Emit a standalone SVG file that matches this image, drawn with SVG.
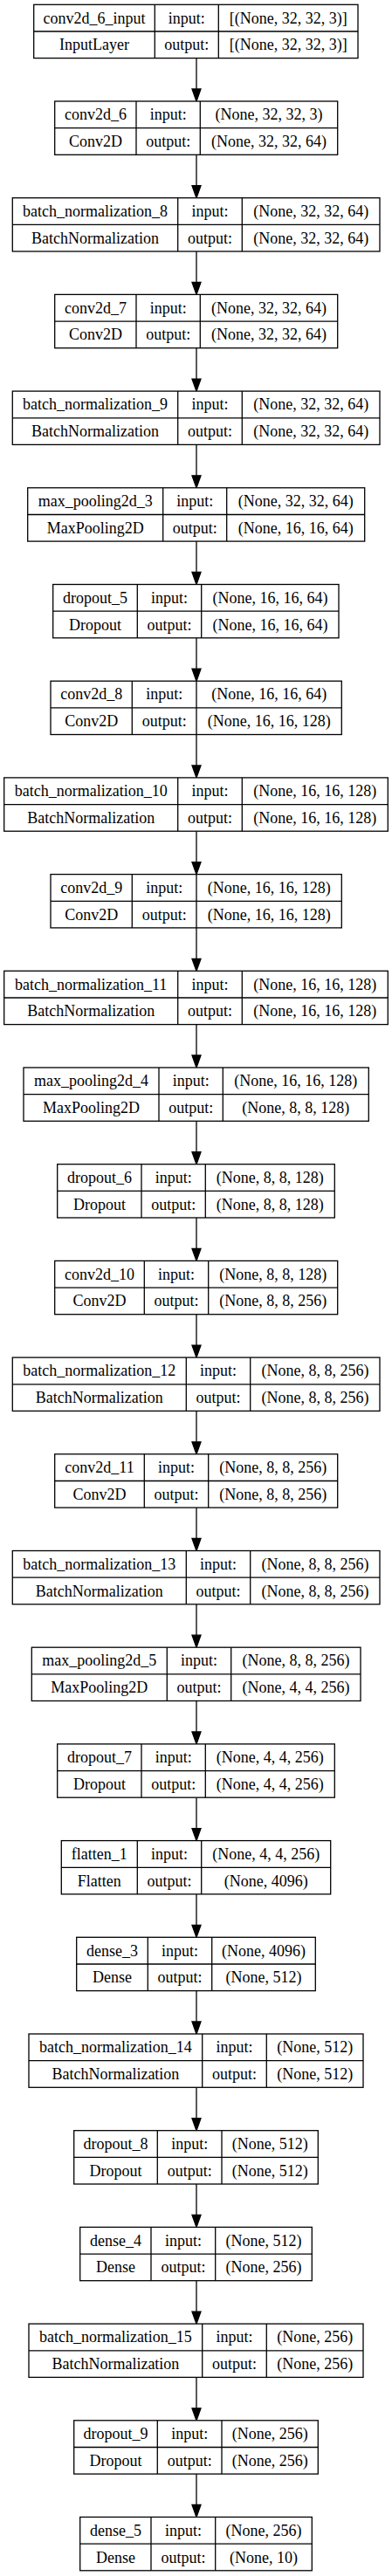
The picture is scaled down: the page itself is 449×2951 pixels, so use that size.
<svg xmlns="http://www.w3.org/2000/svg" width="449" height="2951" viewBox="0 0 449 2951">
<style>
.b{fill:#fff;stroke:#000;stroke-width:1.3}
.l{stroke:#000;stroke-width:1.3}
text{font-family:"Liberation Serif","Times New Roman",serif;font-size:18px;text-anchor:middle;fill:#000}
.e{stroke:#000;stroke-width:1.3;fill:none}
.h{fill:#000;stroke:#000;stroke-width:1.3}
</style>
<rect width="449" height="2951" fill="#fff"/>
<g id="connectors">
<line class="e" x1="225" y1="66.6" x2="225" y2="102"/><polygon class="h" points="220,102 230,102 225,116"/>
<line class="e" x1="225" y1="177.3" x2="225" y2="212.7"/><polygon class="h" points="220,212.7 230,212.7 225,226.7"/>
<line class="e" x1="225" y1="288" x2="225" y2="323.4"/><polygon class="h" points="220,323.4 230,323.4 225,337.4"/>
<line class="e" x1="225" y1="398.7" x2="225" y2="434.1"/><polygon class="h" points="220,434.1 230,434.1 225,448.1"/>
<line class="e" x1="225" y1="509.4" x2="225" y2="544.8"/><polygon class="h" points="220,544.8 230,544.8 225,558.8"/>
<line class="e" x1="225" y1="620.1" x2="225" y2="655.5"/><polygon class="h" points="220,655.5 230,655.5 225,669.5"/>
<line class="e" x1="225" y1="730.8" x2="225" y2="766.2"/><polygon class="h" points="220,766.2 230,766.2 225,780.2"/>
<line class="e" x1="225" y1="841.5" x2="225" y2="876.9"/><polygon class="h" points="220,876.9 230,876.9 225,890.9"/>
<line class="e" x1="225" y1="952.2" x2="225" y2="987.6"/><polygon class="h" points="220,987.6 230,987.6 225,1001.6"/>
<line class="e" x1="225" y1="1062.9" x2="225" y2="1098.3"/><polygon class="h" points="220,1098.3 230,1098.3 225,1112.3"/>
<line class="e" x1="225" y1="1173.6" x2="225" y2="1209"/><polygon class="h" points="220,1209 230,1209 225,1223"/>
<line class="e" x1="225" y1="1284.3" x2="225" y2="1319.7"/><polygon class="h" points="220,1319.7 230,1319.7 225,1333.7"/>
<line class="e" x1="225" y1="1395" x2="225" y2="1430.4"/><polygon class="h" points="220,1430.4 230,1430.4 225,1444.4"/>
<line class="e" x1="225" y1="1505.7" x2="225" y2="1541.1"/><polygon class="h" points="220,1541.1 230,1541.1 225,1555.1"/>
<line class="e" x1="225" y1="1616.4" x2="225" y2="1651.8"/><polygon class="h" points="220,1651.8 230,1651.8 225,1665.8"/>
<line class="e" x1="225" y1="1727.1" x2="225" y2="1762.5"/><polygon class="h" points="220,1762.5 230,1762.5 225,1776.5"/>
<line class="e" x1="225" y1="1837.8" x2="225" y2="1873.2"/><polygon class="h" points="220,1873.2 230,1873.2 225,1887.2"/>
<line class="e" x1="225" y1="1948.5" x2="225" y2="1983.9"/><polygon class="h" points="220,1983.9 230,1983.9 225,1997.9"/>
<line class="e" x1="225" y1="2059.2" x2="225" y2="2094.6"/><polygon class="h" points="220,2094.6 230,2094.6 225,2108.6"/>
<line class="e" x1="225" y1="2169.9" x2="225" y2="2205.3"/><polygon class="h" points="220,2205.3 230,2205.3 225,2219.3"/>
<line class="e" x1="225" y1="2280.6" x2="225" y2="2316"/><polygon class="h" points="220,2316 230,2316 225,2330"/>
<line class="e" x1="225" y1="2391.3" x2="225" y2="2426.7"/><polygon class="h" points="220,2426.7 230,2426.7 225,2440.7"/>
<line class="e" x1="225" y1="2502" x2="225" y2="2537.4"/><polygon class="h" points="220,2537.4 230,2537.4 225,2551.4"/>
<line class="e" x1="225" y1="2612.7" x2="225" y2="2648.1"/><polygon class="h" points="220,2648.1 230,2648.1 225,2662.1"/>
<line class="e" x1="225" y1="2723.4" x2="225" y2="2758.8"/><polygon class="h" points="220,2758.8 230,2758.8 225,2772.8"/>
<line class="e" x1="225" y1="2834.1" x2="225" y2="2869.5"/><polygon class="h" points="220,2869.5 230,2869.5 225,2883.5"/>
</g>
<g id="n0" transform="translate(0,5.3)"><rect class="b" x="38.7" y="0" width="371.3" height="61.3"/><line class="l" x1="38.7" y1="30.7" x2="410" y2="30.7"/><line class="l" x1="177.3" y1="0" x2="177.3" y2="61.3"/><line class="l" x1="250.3" y1="0" x2="250.3" y2="61.3"/><text x="108" y="21.3">conv2d_6_input</text><text x="108" y="52">InputLayer</text><text x="213.8" y="21.3">input:</text><text x="213.8" y="52">output:</text><text x="330.2" y="21.3">[(None, 32, 32, 3)]</text><text x="330.2" y="52">[(None, 32, 32, 3)]</text></g>
<g id="n1" transform="translate(0,116)"><rect class="b" x="62.7" y="0" width="324" height="61.3"/><line class="l" x1="62.7" y1="30.7" x2="386.7" y2="30.7"/><line class="l" x1="156" y1="0" x2="156" y2="61.3"/><line class="l" x1="229.3" y1="0" x2="229.3" y2="61.3"/><text x="109.4" y="21.3">conv2d_6</text><text x="109.4" y="52">Conv2D</text><text x="192.7" y="21.3">input:</text><text x="192.7" y="52">output:</text><text x="308" y="21.3">(None, 32, 32, 3)</text><text x="308" y="52">(None, 32, 32, 64)</text></g>
<g id="n2" transform="translate(0,226.7)"><rect class="b" x="14.3" y="0" width="420.7" height="61.3"/><line class="l" x1="14.3" y1="30.7" x2="435" y2="30.7"/><line class="l" x1="203.7" y1="0" x2="203.7" y2="61.3"/><line class="l" x1="277.3" y1="0" x2="277.3" y2="61.3"/><text x="109" y="21.3">batch_normalization_8</text><text x="109" y="52">BatchNormalization</text><text x="240.5" y="21.3">input:</text><text x="240.5" y="52">output:</text><text x="356.2" y="21.3">(None, 32, 32, 64)</text><text x="356.2" y="52">(None, 32, 32, 64)</text></g>
<g id="n3" transform="translate(0,337.4)"><rect class="b" x="62.7" y="0" width="324" height="61.3"/><line class="l" x1="62.7" y1="30.7" x2="386.7" y2="30.7"/><line class="l" x1="156" y1="0" x2="156" y2="61.3"/><line class="l" x1="229.3" y1="0" x2="229.3" y2="61.3"/><text x="109.4" y="21.3">conv2d_7</text><text x="109.4" y="52">Conv2D</text><text x="192.7" y="21.3">input:</text><text x="192.7" y="52">output:</text><text x="308" y="21.3">(None, 32, 32, 64)</text><text x="308" y="52">(None, 32, 32, 64)</text></g>
<g id="n4" transform="translate(0,448.1)"><rect class="b" x="14.3" y="0" width="420.7" height="61.3"/><line class="l" x1="14.3" y1="30.7" x2="435" y2="30.7"/><line class="l" x1="203.7" y1="0" x2="203.7" y2="61.3"/><line class="l" x1="277.3" y1="0" x2="277.3" y2="61.3"/><text x="109" y="21.3">batch_normalization_9</text><text x="109" y="52">BatchNormalization</text><text x="240.5" y="21.3">input:</text><text x="240.5" y="52">output:</text><text x="356.2" y="21.3">(None, 32, 32, 64)</text><text x="356.2" y="52">(None, 32, 32, 64)</text></g>
<g id="n5" transform="translate(0,558.8)"><rect class="b" x="31.7" y="0" width="386" height="61.3"/><line class="l" x1="31.7" y1="30.7" x2="417.7" y2="30.7"/><line class="l" x1="186.7" y1="0" x2="186.7" y2="61.3"/><line class="l" x1="259.7" y1="0" x2="259.7" y2="61.3"/><text x="109.2" y="21.3">max_pooling2d_3</text><text x="109.2" y="52">MaxPooling2D</text><text x="223.2" y="21.3">input:</text><text x="223.2" y="52">output:</text><text x="338.7" y="21.3">(None, 32, 32, 64)</text><text x="338.7" y="52">(None, 16, 16, 64)</text></g>
<g id="n6" transform="translate(0,669.5)"><rect class="b" x="60.7" y="0" width="327.3" height="61.3"/><line class="l" x1="60.7" y1="30.7" x2="388" y2="30.7"/><line class="l" x1="157.3" y1="0" x2="157.3" y2="61.3"/><line class="l" x1="230.7" y1="0" x2="230.7" y2="61.3"/><text x="109" y="21.3">dropout_5</text><text x="109" y="52">Dropout</text><text x="194" y="21.3">input:</text><text x="194" y="52">output:</text><text x="309.4" y="21.3">(None, 16, 16, 64)</text><text x="309.4" y="52">(None, 16, 16, 64)</text></g>
<g id="n7" transform="translate(0,780.2)"><rect class="b" x="58" y="0" width="333.3" height="61.3"/><line class="l" x1="58" y1="30.7" x2="391.3" y2="30.7"/><line class="l" x1="151.3" y1="0" x2="151.3" y2="61.3"/><line class="l" x1="225" y1="0" x2="225" y2="61.3"/><text x="104.7" y="21.3">conv2d_8</text><text x="104.7" y="52">Conv2D</text><text x="188.2" y="21.3">input:</text><text x="188.2" y="52">output:</text><text x="308.2" y="21.3">(None, 16, 16, 64)</text><text x="308.2" y="52">(None, 16, 16, 128)</text></g>
<g id="n8" transform="translate(0,890.9)"><rect class="b" x="4.7" y="0" width="439.6" height="61.3"/><line class="l" x1="4.7" y1="30.7" x2="444.3" y2="30.7"/><line class="l" x1="203.7" y1="0" x2="203.7" y2="61.3"/><line class="l" x1="277.3" y1="0" x2="277.3" y2="61.3"/><text x="104.2" y="21.3">batch_normalization_10</text><text x="104.2" y="52">BatchNormalization</text><text x="240.5" y="21.3">input:</text><text x="240.5" y="52">output:</text><text x="360.8" y="21.3">(None, 16, 16, 128)</text><text x="360.8" y="52">(None, 16, 16, 128)</text></g>
<g id="n9" transform="translate(0,1001.6)"><rect class="b" x="58" y="0" width="333.3" height="61.3"/><line class="l" x1="58" y1="30.7" x2="391.3" y2="30.7"/><line class="l" x1="151.3" y1="0" x2="151.3" y2="61.3"/><line class="l" x1="225" y1="0" x2="225" y2="61.3"/><text x="104.7" y="21.3">conv2d_9</text><text x="104.7" y="52">Conv2D</text><text x="188.2" y="21.3">input:</text><text x="188.2" y="52">output:</text><text x="308.2" y="21.3">(None, 16, 16, 128)</text><text x="308.2" y="52">(None, 16, 16, 128)</text></g>
<g id="n10" transform="translate(0,1112.3)"><rect class="b" x="4.7" y="0" width="439.6" height="61.3"/><line class="l" x1="4.7" y1="30.7" x2="444.3" y2="30.7"/><line class="l" x1="203.7" y1="0" x2="203.7" y2="61.3"/><line class="l" x1="277.3" y1="0" x2="277.3" y2="61.3"/><text x="104.2" y="21.3">batch_normalization_11</text><text x="104.2" y="52">BatchNormalization</text><text x="240.5" y="21.3">input:</text><text x="240.5" y="52">output:</text><text x="360.8" y="21.3">(None, 16, 16, 128)</text><text x="360.8" y="52">(None, 16, 16, 128)</text></g>
<g id="n11" transform="translate(0,1223)"><rect class="b" x="27" y="0" width="395.3" height="61.3"/><line class="l" x1="27" y1="30.7" x2="422.3" y2="30.7"/><line class="l" x1="182" y1="0" x2="182" y2="61.3"/><line class="l" x1="255.3" y1="0" x2="255.3" y2="61.3"/><text x="104.5" y="21.3">max_pooling2d_4</text><text x="104.5" y="52">MaxPooling2D</text><text x="218.7" y="21.3">input:</text><text x="218.7" y="52">output:</text><text x="338.8" y="21.3">(None, 16, 16, 128)</text><text x="338.8" y="52">(None, 8, 8, 128)</text></g>
<g id="n12" transform="translate(0,1333.7)"><rect class="b" x="65.7" y="0" width="317.6" height="61.3"/><line class="l" x1="65.7" y1="30.7" x2="383.3" y2="30.7"/><line class="l" x1="162" y1="0" x2="162" y2="61.3"/><line class="l" x1="235.3" y1="0" x2="235.3" y2="61.3"/><text x="113.9" y="21.3">dropout_6</text><text x="113.9" y="52">Dropout</text><text x="198.7" y="21.3">input:</text><text x="198.7" y="52">output:</text><text x="309.3" y="21.3">(None, 8, 8, 128)</text><text x="309.3" y="52">(None, 8, 8, 128)</text></g>
<g id="n13" transform="translate(0,1444.4)"><rect class="b" x="62.7" y="0" width="324" height="61.3"/><line class="l" x1="62.7" y1="30.7" x2="386.7" y2="30.7"/><line class="l" x1="165.3" y1="0" x2="165.3" y2="61.3"/><line class="l" x1="238.7" y1="0" x2="238.7" y2="61.3"/><text x="114" y="21.3">conv2d_10</text><text x="114" y="52">Conv2D</text><text x="202" y="21.3">input:</text><text x="202" y="52">output:</text><text x="312.7" y="21.3">(None, 8, 8, 128)</text><text x="312.7" y="52">(None, 8, 8, 256)</text></g>
<g id="n14" transform="translate(0,1555.1)"><rect class="b" x="14.3" y="0" width="420.7" height="61.3"/><line class="l" x1="14.3" y1="30.7" x2="435" y2="30.7"/><line class="l" x1="213.3" y1="0" x2="213.3" y2="61.3"/><line class="l" x1="286.7" y1="0" x2="286.7" y2="61.3"/><text x="113.8" y="21.3">batch_normalization_12</text><text x="113.8" y="52">BatchNormalization</text><text x="250" y="21.3">input:</text><text x="250" y="52">output:</text><text x="360.9" y="21.3">(None, 8, 8, 256)</text><text x="360.9" y="52">(None, 8, 8, 256)</text></g>
<g id="n15" transform="translate(0,1665.8)"><rect class="b" x="62.7" y="0" width="324" height="61.3"/><line class="l" x1="62.7" y1="30.7" x2="386.7" y2="30.7"/><line class="l" x1="165.3" y1="0" x2="165.3" y2="61.3"/><line class="l" x1="238.7" y1="0" x2="238.7" y2="61.3"/><text x="114" y="21.3">conv2d_11</text><text x="114" y="52">Conv2D</text><text x="202" y="21.3">input:</text><text x="202" y="52">output:</text><text x="312.7" y="21.3">(None, 8, 8, 256)</text><text x="312.7" y="52">(None, 8, 8, 256)</text></g>
<g id="n16" transform="translate(0,1776.5)"><rect class="b" x="14.3" y="0" width="420.7" height="61.3"/><line class="l" x1="14.3" y1="30.7" x2="435" y2="30.7"/><line class="l" x1="213.3" y1="0" x2="213.3" y2="61.3"/><line class="l" x1="286.7" y1="0" x2="286.7" y2="61.3"/><text x="113.8" y="21.3">batch_normalization_13</text><text x="113.8" y="52">BatchNormalization</text><text x="250" y="21.3">input:</text><text x="250" y="52">output:</text><text x="360.9" y="21.3">(None, 8, 8, 256)</text><text x="360.9" y="52">(None, 8, 8, 256)</text></g>
<g id="n17" transform="translate(0,1887.2)"><rect class="b" x="36.3" y="0" width="376.7" height="61.3"/><line class="l" x1="36.3" y1="30.7" x2="413" y2="30.7"/><line class="l" x1="191.3" y1="0" x2="191.3" y2="61.3"/><line class="l" x1="264.7" y1="0" x2="264.7" y2="61.3"/><text x="113.8" y="21.3">max_pooling2d_5</text><text x="113.8" y="52">MaxPooling2D</text><text x="228" y="21.3">input:</text><text x="228" y="52">output:</text><text x="338.9" y="21.3">(None, 8, 8, 256)</text><text x="338.9" y="52">(None, 4, 4, 256)</text></g>
<g id="n18" transform="translate(0,1997.9)"><rect class="b" x="65.7" y="0" width="317.6" height="61.3"/><line class="l" x1="65.7" y1="30.7" x2="383.3" y2="30.7"/><line class="l" x1="162" y1="0" x2="162" y2="61.3"/><line class="l" x1="235.3" y1="0" x2="235.3" y2="61.3"/><text x="113.9" y="21.3">dropout_7</text><text x="113.9" y="52">Dropout</text><text x="198.7" y="21.3">input:</text><text x="198.7" y="52">output:</text><text x="309.3" y="21.3">(None, 4, 4, 256)</text><text x="309.3" y="52">(None, 4, 4, 256)</text></g>
<g id="n19" transform="translate(0,2108.6)"><rect class="b" x="70.3" y="0" width="308.4" height="61.3"/><line class="l" x1="70.3" y1="30.7" x2="378.7" y2="30.7"/><line class="l" x1="157.3" y1="0" x2="157.3" y2="61.3"/><line class="l" x1="230.7" y1="0" x2="230.7" y2="61.3"/><text x="113.8" y="21.3">flatten_1</text><text x="113.8" y="52">Flatten</text><text x="194" y="21.3">input:</text><text x="194" y="52">output:</text><text x="304.7" y="21.3">(None, 4, 4, 256)</text><text x="304.7" y="52">(None, 4096)</text></g>
<g id="n20" transform="translate(0,2219.3)"><rect class="b" x="87.7" y="0" width="273.6" height="61.3"/><line class="l" x1="87.7" y1="30.7" x2="361.3" y2="30.7"/><line class="l" x1="169.3" y1="0" x2="169.3" y2="61.3"/><line class="l" x1="242.7" y1="0" x2="242.7" y2="61.3"/><text x="128.5" y="21.3">dense_3</text><text x="128.5" y="52">Dense</text><text x="206" y="21.3">input:</text><text x="206" y="52">output:</text><text x="302" y="21.3">(None, 4096)</text><text x="302" y="52">(None, 512)</text></g>
<g id="n21" transform="translate(0,2330)"><rect class="b" x="33" y="0" width="383" height="61.3"/><line class="l" x1="33" y1="30.7" x2="416" y2="30.7"/><line class="l" x1="231.7" y1="0" x2="231.7" y2="61.3"/><line class="l" x1="305.3" y1="0" x2="305.3" y2="61.3"/><text x="132.4" y="21.3">batch_normalization_14</text><text x="132.4" y="52">BatchNormalization</text><text x="268.5" y="21.3">input:</text><text x="268.5" y="52">output:</text><text x="360.7" y="21.3">(None, 512)</text><text x="360.7" y="52">(None, 512)</text></g>
<g id="n22" transform="translate(0,2440.7)"><rect class="b" x="84.7" y="0" width="279.6" height="61.3"/><line class="l" x1="84.7" y1="30.7" x2="364.3" y2="30.7"/><line class="l" x1="180.3" y1="0" x2="180.3" y2="61.3"/><line class="l" x1="254" y1="0" x2="254" y2="61.3"/><text x="132.5" y="21.3">dropout_8</text><text x="132.5" y="52">Dropout</text><text x="217.2" y="21.3">input:</text><text x="217.2" y="52">output:</text><text x="309.2" y="21.3">(None, 512)</text><text x="309.2" y="52">(None, 512)</text></g>
<g id="n23" transform="translate(0,2551.4)"><rect class="b" x="91.7" y="0" width="265.6" height="61.3"/><line class="l" x1="91.7" y1="30.7" x2="357.3" y2="30.7"/><line class="l" x1="173" y1="0" x2="173" y2="61.3"/><line class="l" x1="246.7" y1="0" x2="246.7" y2="61.3"/><text x="132.4" y="21.3">dense_4</text><text x="132.4" y="52">Dense</text><text x="209.9" y="21.3">input:</text><text x="209.9" y="52">output:</text><text x="302" y="21.3">(None, 512)</text><text x="302" y="52">(None, 256)</text></g>
<g id="n24" transform="translate(0,2662.1)"><rect class="b" x="33" y="0" width="383" height="61.3"/><line class="l" x1="33" y1="30.7" x2="416" y2="30.7"/><line class="l" x1="231.7" y1="0" x2="231.7" y2="61.3"/><line class="l" x1="305.3" y1="0" x2="305.3" y2="61.3"/><text x="132.4" y="21.3">batch_normalization_15</text><text x="132.4" y="52">BatchNormalization</text><text x="268.5" y="21.3">input:</text><text x="268.5" y="52">output:</text><text x="360.7" y="21.3">(None, 256)</text><text x="360.7" y="52">(None, 256)</text></g>
<g id="n25" transform="translate(0,2772.8)"><rect class="b" x="84.7" y="0" width="279.6" height="61.3"/><line class="l" x1="84.7" y1="30.7" x2="364.3" y2="30.7"/><line class="l" x1="180.3" y1="0" x2="180.3" y2="61.3"/><line class="l" x1="254" y1="0" x2="254" y2="61.3"/><text x="132.5" y="21.3">dropout_9</text><text x="132.5" y="52">Dropout</text><text x="217.2" y="21.3">input:</text><text x="217.2" y="52">output:</text><text x="309.2" y="21.3">(None, 256)</text><text x="309.2" y="52">(None, 256)</text></g>
<g id="n26" transform="translate(0,2883.5)"><rect class="b" x="91.7" y="0" width="265.6" height="61.3"/><line class="l" x1="91.7" y1="30.7" x2="357.3" y2="30.7"/><line class="l" x1="173" y1="0" x2="173" y2="61.3"/><line class="l" x1="246.7" y1="0" x2="246.7" y2="61.3"/><text x="132.4" y="21.3">dense_5</text><text x="132.4" y="52">Dense</text><text x="209.9" y="21.3">input:</text><text x="209.9" y="52">output:</text><text x="302" y="21.3">(None, 256)</text><text x="302" y="52">(None, 10)</text></g>
</svg>
